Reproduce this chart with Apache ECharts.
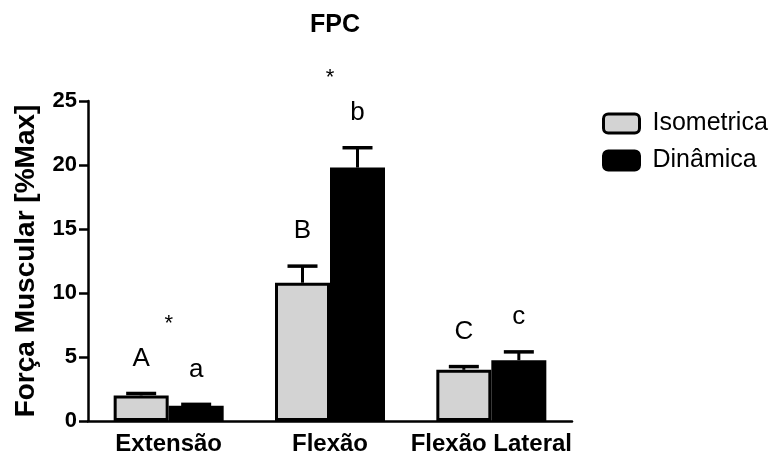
<!DOCTYPE html>
<html>
<head>
<meta charset="utf-8">
<script src="https://cdn.jsdelivr.net/npm/echarts@6/dist/echarts.min.js"></script>
<style>
  html, body { margin: 0; padding: 0; background: #fff; }
  #chart { width: 781px; height: 457px; }
</style>
</head>
<body>
<div id="chart"></div>
<script>
// data
const categories = ['Extensão', 'Flexão', 'Flexão Lateral'];
const isoMean = [2.0, 10.8, 4.0];
const isoErr = [0.15, 1.3, 0.25];
const dinMean = [1.2, 19.8, 4.75];
const dinErr = [0.1, 1.55, 0.65];
const isoLetters = ['A', 'B', 'C'];
const dinLetters = ['a', 'b', 'c'];
const significant = [true, true, false];

const FONT = 'Liberation Sans, Arial, sans-serif';
const BAR_W = 55;

const chart = echarts.init(document.getElementById('chart'));

// error bar + letter on top of each bar
function errorRenderer(sign, letters) {
  return function (params, api) {
    const i = api.value(0);
    const mean = api.value(1);
    const err = api.value(2);
    const base = api.coord([i, mean]);
    const top = api.coord([i, mean + err]);
    const x = base[0] + sign * BAR_W / 2;
    return {
      type: 'group',
      children: [
        { type: 'line', shape: { x1: x, y1: base[1], x2: x, y2: top[1] }, style: { stroke: '#000', lineWidth: 3 } },
        { type: 'line', shape: { x1: x - 15, y1: top[1], x2: x + 15, y2: top[1] }, style: { stroke: '#000', lineWidth: 3.5 } },
        { type: 'text', x: x, y: top[1] - 35, style: { text: letters[params.dataIndex], fill: '#000', fontSize: 26, fontFamily: FONT, align: 'center', verticalAlign: 'middle' } }
      ]
    };
  };
}

// asterisk above the higher letter of a category
function starRenderer(params, api) {
  const i = api.value(0);
  if (!significant[i]) return null;
  const a = api.coord([i, isoMean[i] + isoErr[i]]);
  const b = api.coord([i, dinMean[i] + dinErr[i]]);
  const y = Math.min(a[1], b[1]) - 35 - 37;
  return {
    type: 'text', x: a[0], y: y + 2,
    style: { text: '*', fill: '#000', fontSize: 22, fontFamily: FONT, align: 'center', verticalAlign: 'middle' }
  };
}

chart.setOption({
  animation: false,
  title: {
    text: 'FPC',
    left: 330, top: 8, textAlign: 'center',
    textStyle: { fontFamily: FONT, fontWeight: 'bold', fontSize: 25, color: '#000' }
  },
  legend: {
    orient: 'vertical',
    left: 597, top: 106,
    itemWidth: 36, itemHeight: 19, itemGap: 12,
    textStyle: { fontFamily: FONT, fontSize: 25, color: '#000', padding: [0, 0, 0, 8] },
    data: [
      { name: 'Isometrica', icon: 'roundRect', itemStyle: { color: '#d3d3d3', borderColor: '#000', borderWidth: 3 } },
      { name: 'Dinâmica', icon: 'roundRect', itemStyle: { color: '#000', borderColor: '#000', borderWidth: 3 } }
    ]
  },
  grid: { left: 88, right: 209, top: 101, bottom: 36 },
  xAxis: {
    type: 'category',
    data: categories,
    axisLine: { lineStyle: { color: '#000', width: 2.5 } },
    axisTick: { alignWithLabel: true, length: 7, lineStyle: { color: '#000', width: 2.5 } },
    axisLabel: { interval: 0, color: '#000', fontFamily: FONT, fontWeight: 'bold', fontSize: 24, margin: 11 }
  },
  yAxis: {
    type: 'value',
    min: 0, max: 25, interval: 5,
    name: 'Força Muscular [%Max]',
    nameLocation: 'middle',
    nameGap: 48,
    nameTextStyle: { color: '#000', fontFamily: FONT, fontWeight: 'bold', fontSize: 28 },
    axisLine: { show: true, lineStyle: { color: '#000', width: 2.5 } },
    axisTick: { show: true, length: 9, lineStyle: { color: '#000', width: 2.5 } },
    axisLabel: { color: '#000', fontFamily: FONT, fontWeight: 'bold', fontSize: 22, margin: 11 },
    splitLine: { show: false }
  },
  series: [
    {
      name: 'Isometrica', type: 'bar', barWidth: BAR_W, barGap: '0%',
      data: isoMean,
      itemStyle: { color: '#d3d3d3', borderColor: '#000', borderWidth: 3 }
    },
    {
      name: 'Dinâmica', type: 'bar', barWidth: BAR_W, barGap: '0%',
      data: dinMean,
      itemStyle: { color: '#000', borderColor: '#000', borderWidth: 3 }
    },
    {
      type: 'custom', renderItem: errorRenderer(-1, isoLetters), clip: false, z: 5,
      data: isoMean.map((m, i) => [i, m, isoErr[i]])
    },
    {
      type: 'custom', renderItem: errorRenderer(1, dinLetters), clip: false, z: 5,
      data: dinMean.map((m, i) => [i, m, dinErr[i]])
    },
    {
      type: 'custom', renderItem: starRenderer, clip: false, z: 5,
      data: categories.map((c, i) => [i, 0])
    }
  ]
});
</script>
</body>
</html>
